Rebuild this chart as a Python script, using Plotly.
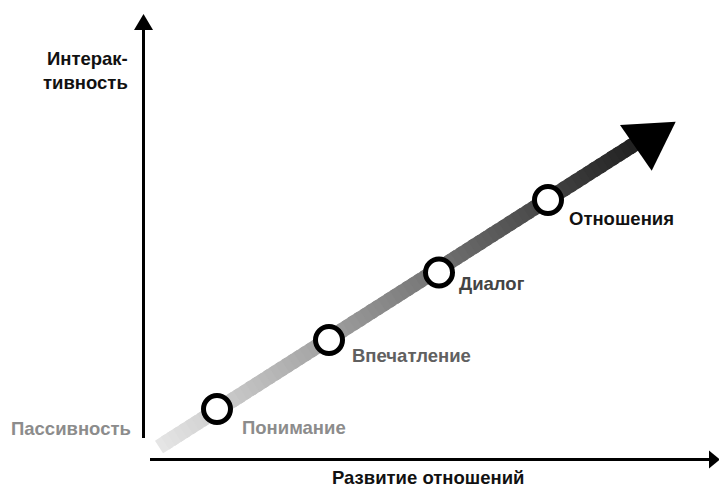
import plotly.graph_objects as go
import numpy as np

# ---- data ----
stages = ["Понимание", "Впечатление", "Диалог", "Отношения"]
stage_x = [217, 329, 439, 548]
stage_y = [79, 148, 215.5, 288]
stage_colors = ["#8c8c8c", "#606060", "#444444", "#111111"]
x_title = "Развитие отношений"
y_title = "Интерак-<br>тивность"
low_label = "Пассивность"

# band (progression) from start to end, gradient colors
band_start = (159, 41)
band_end = (641, 348)
band_color_start = (230, 230, 230)
band_color_end = (30, 30, 30)
band_width = 15

W, H = 719, 488
FONT = "Liberation Sans"

fig = go.Figure()
shapes = []

# gradient band built from many small polygons
N = 80
sx, sy = band_start
ex, ey = band_end
dx, dy = ex - sx, ey - sy
L = np.hypot(dx, dy)
ux, uy = dx / L, dy / L
px, py = -uy * band_width / 2, ux * band_width / 2
for i in range(N):
    t0 = i / N
    t1 = min(1.0, (i + 1.6) / N)
    ax_, ay_ = sx + dx * t0, sy + dy * t0
    bx_, by_ = sx + dx * t1, sy + dy * t1
    tm = (i + 0.5) / N
    c = [int(round(band_color_start[k] + (band_color_end[k] - band_color_start[k]) * tm)) for k in range(3)]
    col = "rgb(%d,%d,%d)" % tuple(c)
    path = "M %f %f L %f %f L %f %f L %f %f Z" % (
        ax_ + px, ay_ + py, bx_ + px, by_ + py, bx_ - px, by_ - py, ax_ - px, ay_ - py)
    shapes.append(dict(type="path", path=path, fillcolor=col, line=dict(width=0), layer="below"))

# arrowhead at end of band
shapes.append(dict(type="path", path="M 620 363 L 675.7 366.3 L 651.7 317.3 Z",
                   fillcolor="#000000", line=dict(width=0), layer="below"))

# axes
ox, oy = 143.5, 28.5
shapes.append(dict(type="line", x0=ox, y0=50, x1=ox, y1=459, line=dict(color="#000", width=3)))
shapes.append(dict(type="path", path="M %f 458 L %f 474 L %f 458 Z" % (ox - 9.5, ox, ox + 9.5),
                   fillcolor="#000", line=dict(width=0)))
shapes.append(dict(type="line", x0=150, y0=oy, x1=711, y1=oy, line=dict(color="#000", width=3)))
shapes.append(dict(type="path", path="M 709 %f L 720 %f L 709 %f Z" % (oy + 9, oy, oy - 9),
                   fillcolor="#000", line=dict(width=0)))

# stage circles
fig.add_trace(go.Scatter(x=stage_x, y=stage_y, mode="markers",
                         marker=dict(size=27, color="white", line=dict(color="black", width=5)),
                         hoverinfo="skip", showlegend=False))

annotations = []
label_dx = [23, 21, 18, 19]
label_dy = [-18, -15, -11, -18]
for name, x, y, c, ddx, ddy in zip(stages, stage_x, stage_y, stage_colors, label_dx, label_dy):
    annotations.append(dict(x=x + ddx, y=y + ddy, text=name, showarrow=False, xanchor="left", yanchor="middle",
                            font=dict(family=FONT, size=18.5, color=c, weight=700)))

annotations.append(dict(x=428, y=11, text=x_title, showarrow=False, xanchor="center", yanchor="middle",
                        font=dict(family=FONT, size=18.5, color="#111", weight=700)))
annotations.append(dict(x=130, y=418, text=y_title, showarrow=False, xanchor="right", yanchor="middle", align="right",
                        font=dict(family=FONT, size=18.5, color="#111", weight=700)))
annotations.append(dict(x=133, y=60, text=low_label, showarrow=False, xanchor="right", yanchor="middle",
                        font=dict(family=FONT, size=18.5, color="#8c8c8c", weight=700)))

fig.update_layout(
    width=W, height=H, margin=dict(l=0, r=0, t=0, b=0),
    paper_bgcolor="white", plot_bgcolor="white",
    xaxis=dict(range=[0, W], visible=False, fixedrange=True),
    yaxis=dict(range=[0, H], visible=False, fixedrange=True),
    shapes=shapes, annotations=annotations, showlegend=False,
)

fig.write_html("out.html", config={"displayModeBar": False},
               post_script="document.body.style.margin='0';document.body.style.padding='0';")
